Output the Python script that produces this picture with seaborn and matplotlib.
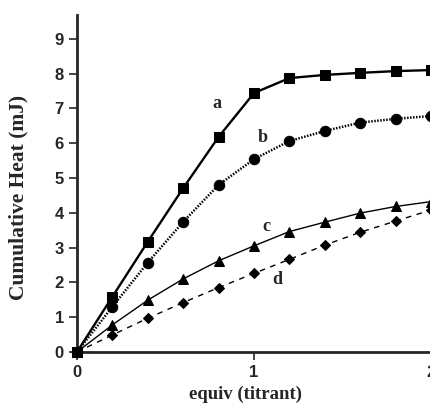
import numpy as np
import pandas as pd
import seaborn as sns
import matplotlib.pyplot as plt

# 적정 데이터 (equiv vs cumulative heat)
equiv = [0.0, 0.2, 0.4, 0.6, 0.8, 1.0, 1.2, 1.4, 1.6, 1.8, 2.0]
heat_a = [0.0, 1.59, 3.17, 4.71, 6.18, 7.44, 7.87, 7.96, 8.02, 8.07, 8.10]
heat_b = [0.0, 1.30, 2.57, 3.74, 4.80, 5.54, 6.06, 6.35, 6.59, 6.70, 6.78]
heat_c = [0.0, 0.78, 1.49, 2.10, 2.62, 3.05, 3.46, 3.73, 3.99, 4.18, 4.32]
heat_d = [0.0, 0.49, 0.97, 1.42, 1.85, 2.26, 2.66, 3.07, 3.44, 3.76, 4.08]

curve_labels = ["a", "b", "c", "d"]
label_x = [0.79, 1.05, 1.07, 1.13]
label_y = [7.15, 6.15, 3.6, 2.07]

sns.set_style("ticks")
plt.rcParams['font.family'] = ['Liberation Sans', 'DejaVu Sans']

fig = plt.figure(figsize=(4.31, 4.03), dpi=100)
ax = fig.add_axes([0.1787, 0.1266, 0.8213, 0.836])

df = pd.DataFrame({"equiv": equiv, "a": heat_a, "b": heat_b,
                   "c": heat_c, "d": heat_d})

# 곡선별 스타일
styles = {
    "a": dict(marker="s", markersize=7.5, linewidth=1.7, linestyle="-"),
    "b": dict(marker="o", markersize=7.5, linewidth=1.8, linestyle=(0, (0.6, 0.6))),
    "c": dict(marker="^", markersize=7.5, linewidth=1.0, linestyle="-"),
    "d": dict(marker="D", markersize=5.5, linewidth=1.0, linestyle=(0, (4, 4))),
}
for name in curve_labels:
    sns.lineplot(data=df, x="equiv", y=name, ax=ax, color="black",
                 markeredgecolor="black", clip_on=False, zorder=3,
                 **styles[name])

for lab, lx, ly in zip(curve_labels, label_x, label_y):
    ax.text(lx, ly, lab, fontsize=13, fontweight="bold",
            family="Liberation Serif", ha="center", va="center")

ax.set_xlim(0, 2)
ax.set_ylim(0, 9.68)
ax.set_xticks([0, 1, 2])
ax.set_yticks(range(0, 10))
ax.tick_params(axis="both", labelsize=12, width=1.2, length=6, direction="out")
for t in ax.get_xticklabels() + ax.get_yticklabels():
    t.set_fontweight("bold")

for s in ["top", "right"]:
    ax.spines[s].set_visible(False)
for s in ["left", "bottom"]:
    ax.spines[s].set_linewidth(2)

ax.set_xlabel("equiv (titrant)", fontsize=13.5, fontweight="bold",
              family="Liberation Serif")
ax.set_ylabel("Cumulative Heat (mJ)", fontsize=15.5, fontweight="bold",
              family="Liberation Serif")
ax.xaxis.set_label_coords(0.475, -0.10)
ax.yaxis.set_label_coords(-0.138, 0.46)

fig.savefig("out.png", dpi=100)
